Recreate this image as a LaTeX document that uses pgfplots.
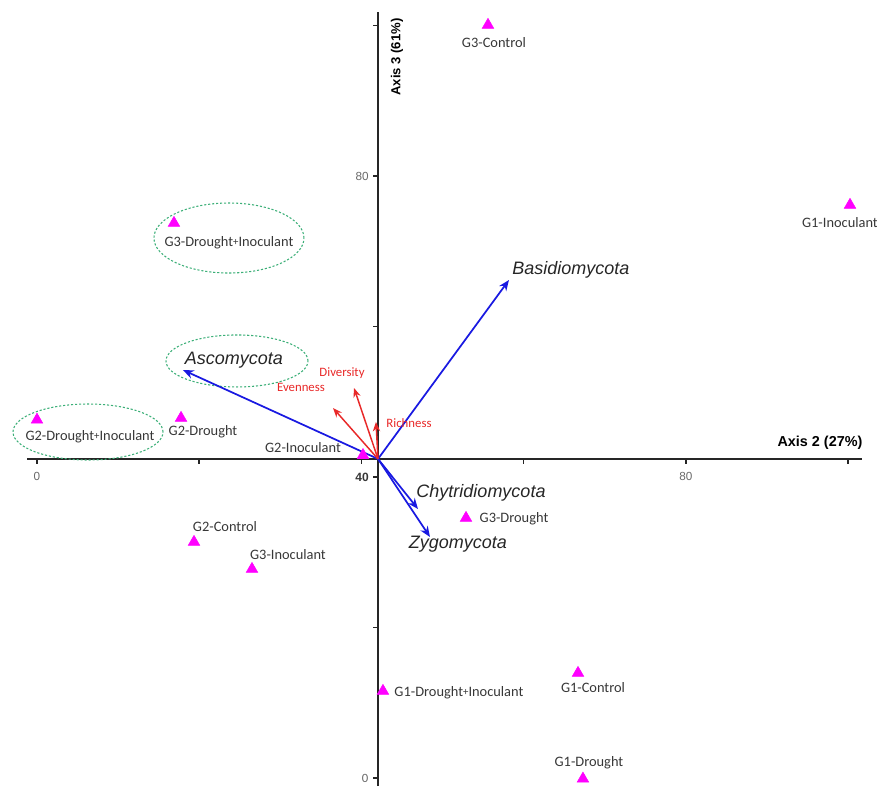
\documentclass[border=0pt]{standalone}
\usepackage{pgfplots}
\pgfplotsset{compat=1.18}
\usepackage{pgfplotstable}
\usepackage{fontspec}
\setmainfont{Carlito}
\newfontfamily\arialf{Liberation Sans}
\usetikzlibrary{arrows.meta}
\definecolor{mag}{RGB}{255,0,255}
\definecolor{arrblue}{RGB}{25,25,225}
\definecolor{arrred}{RGB}{232,40,40}
\definecolor{ellg}{RGB}{60,175,120}
\definecolor{tickgray}{RGB}{105,105,105}
\definecolor{labgray}{RGB}{55,55,55}
\newcommand{\pl}{\raisebox{0.15ex}{\scalebox{0.75}{+}}}

\pgfplotstableread{
x y
55.61 100.07
100.25 76.15
16.89 73.75
0.0 47.6
17.76 47.84
40.2 42.9
52.9 34.55
19.36 31.36
26.51 27.77
42.66 11.56
66.71 13.95
67.32 -0.1
}\samples

\pgfplotstableread{
x y tx ty
42.05 42.4 58.20 66.18
42.05 42.4 18.00 54.22
42.05 42.4 46.98 35.75
42.05 42.4 48.46 32.03
}\phyla

\pgfplotstableread{
x y tx ty
42.05 42.4 39.09 51.83
42.05 42.4 36.50 49.17
42.05 42.4 41.80 47.31
}\indices

\begin{document}
\begin{tikzpicture}
\begin{axis}[
  scale only axis, width=657.75pt, height=589.5pt,
  xmin=-4.562, xmax=103.58, ymin=-1.063, ymax=103.39,
  hide axis, clip=false]
\coordinate (sw) at (rel axis cs:0,0);
\coordinate (ne) at (rel axis cs:1,1);
% axes
\draw[line width=1.4pt, black!85] (axis cs:-1.23,42.4) -- (axis cs:101.7,42.4);
\draw[line width=1.4pt, black!85] (axis cs:42.05,-1.063) -- (axis cs:42.05,101.8);
\pgfplotsinvokeforeach{0,20,40,60,80,100}{
  \draw[line width=1.2pt, black!85] (axis cs:#1,42.4) -- ++(0pt,-4pt);
  \draw[line width=1.2pt, black!85] (axis cs:42.05,#1) -- ++(-4pt,0pt);
}
% tick labels
\node[font=\arialf\fontsize{8.8}{10}\selectfont, text=tickgray] at (axis cs:0,40.11) {0};
\node[font=\arialf\fontsize{8.8}{10}\selectfont, text=tickgray] at (axis cs:80,40.11) {80};
\node[font=\arialf\fontsize{8.8}{10}\selectfont, text=tickgray] at (axis cs:40.08,80) {80};
\node[font=\fontsize{9.5}{10}\selectfont, text=tickgray] at (axis cs:40.45,0) {0};
\node[font=\arialf\bfseries\fontsize{9}{10}\selectfont, text=labgray] at (axis cs:40.08,39.9) {40};
% axis titles
\node[font=\arialf\bfseries\fontsize{10.8}{12}\selectfont] at (axis cs:96.55,44.52) {Axis 2 (27\%)};
\node[font=\arialf\bfseries\fontsize{9.8}{12}\selectfont, rotate=90] at (axis cs:44.39,95.81) {Axis 3 (61\%)};
% ellipses
\draw[ellg, line width=0.8pt, dash pattern=on 1.6pt off 1.4pt] (axis cs:23.67,71.76) ellipse [x radius=56.25pt, y radius=26.25pt];
\draw[ellg, line width=0.8pt, dash pattern=on 1.6pt off 1.4pt] (axis cs:24.66,55.42) ellipse [x radius=53.25pt, y radius=19.5pt];
\draw[ellg, line width=0.8pt, dash pattern=on 1.6pt off 1.4pt] (axis cs:6.29,45.98) ellipse [x radius=56.25pt, y radius=21pt];
% arrows
\addplot[arrblue, line width=1.3pt, -{Stealth[length=8pt,width=6.5pt]},
  quiver={u=\thisrow{tx}-\thisrow{x}, v=\thisrow{ty}-\thisrow{y}}] table[x=x,y=y] {\phyla};
\addplot[arrred, line width=1.1pt, -{Stealth[length=7pt,width=5.5pt]},
  quiver={u=\thisrow{tx}-\thisrow{x}, v=\thisrow{ty}-\thisrow{y}}] table[x=x,y=y] {\indices};
% samples
\addplot[only marks, mark=triangle*, mark size=5pt, color=mag] table[x=x,y=y] {\samples};
% sample labels
\begin{scope}[every node/.style={font=\fontsize{10.8}{12}\selectfont, text=labgray}]
\node at (axis cs:56.35,97.67) {G3-Control};
\node at (axis cs:99.01,73.75) {G1-Inoculant};
\node at (axis cs:23.67,71.10) {G3-Drought\pl Inoculant};
\node at (axis cs:6.54,45.32) {G2-Drought\pl Inoculant};
\node at (axis cs:20.47,45.98) {G2-Drought};
\node at (axis cs:32.80,43.85) {G2-Inoculant};
\node at (axis cs:58.82,34.42) {G3-Drought};
\node at (axis cs:23.18,33.36) {G2-Control};
\node at (axis cs:30.95,29.63) {G3-Inoculant};
\node at (axis cs:52.03,11.30) {G1-Drought\pl Inoculant};
\node at (axis cs:68.56,11.96) {G1-Control};
\node at (axis cs:68.06,1.99) {G1-Drought};
\end{scope}
% phyla labels
\begin{scope}[every node/.style={font=\arialf\itshape\fontsize{13.5}{15}\selectfont, text=black!85}]
\node at (axis cs:65.84,67.51) {Basidiomycota};
\node at (axis cs:24.29,55.55) {Ascomycota};
\node at (axis cs:54.75,37.87) {Chytridiomycota};
\node at (axis cs:51.91,31.10) {Zygomycota};
\end{scope}
% index labels
\begin{scope}[every node/.style={font=\fontsize{9.6}{11}\selectfont, text=arrred}]
\node at (axis cs:37.61,53.82) {Diversity};
\node at (axis cs:32.55,51.93) {Evenness};
\node at (axis cs:45.87,47.18) {Richness};
\end{scope}
\end{axis}
\pgfresetboundingbox
\useasboundingbox (sw) rectangle (ne);
\end{tikzpicture}
\end{document}
